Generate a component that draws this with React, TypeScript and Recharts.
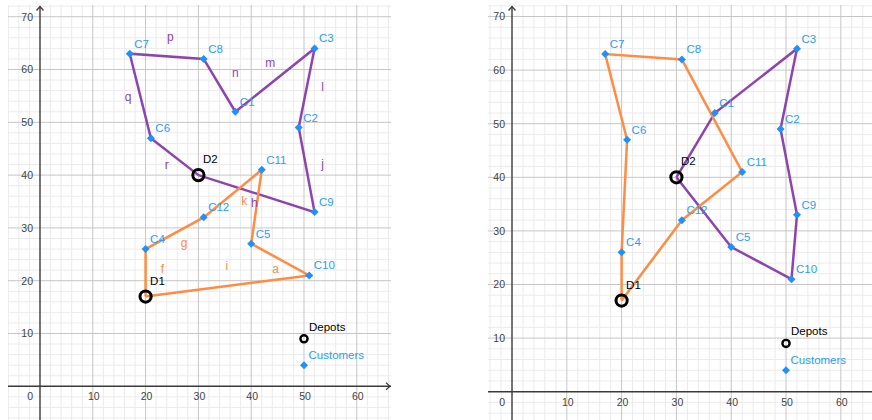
import React from 'react';
import { ScatterChart, Scatter, XAxis, YAxis, ReferenceLine } from 'recharts';

// customer + depot coordinates
const customers = [
  { name: 'C1', x: 37, y: 52 },
  { name: 'C2', x: 49, y: 49 },
  { name: 'C3', x: 52, y: 64 },
  { name: 'C4', x: 20, y: 26 },
  { name: 'C5', x: 40, y: 27 },
  { name: 'C6', x: 21, y: 47 },
  { name: 'C7', x: 17, y: 63 },
  { name: 'C8', x: 31, y: 62 },
  { name: 'C9', x: 52, y: 33 },
  { name: 'C10', x: 51, y: 21 },
  { name: 'C11', x: 42, y: 41 },
  { name: 'C12', x: 31, y: 32 },
];
const depots = [
  { name: 'D1', x: 20, y: 17 },
  { name: 'D2', x: 30, y: 40 },
];
const legendDepot = [{ name: 'Depots', x: 50, y: 9 }];
const legendCustomer = [{ name: 'Customers', x: 50, y: 4 }];

// routes (closed tours)
const leftOrangeRoute = ['D1', 'C4', 'C12', 'C11', 'C5', 'C10', 'D1'];
const leftPurpleRoute = ['D2', 'C6', 'C7', 'C8', 'C1', 'C3', 'C2', 'C9', 'D2'];
const rightOrangeRoute = ['D1', 'C4', 'C6', 'C7', 'C8', 'C11', 'C12', 'D1'];
const rightPurpleRoute = ['D2', 'C1', 'C3', 'C2', 'C9', 'C10', 'C5', 'D2'];

// edge names on the left plot
const purpleEdgeLabels = [
  { name: 'p', x: 24.7, y: 66.2 },
  { name: 'q', x: 16.7, y: 54.8 },
  { name: 'n', x: 37.0, y: 59.3 },
  { name: 'm', x: 43.6, y: 61.2 },
  { name: 'l', x: 53.5, y: 56.7 },
  { name: 'j', x: 53.5, y: 42.2 },
  { name: 'r', x: 24.0, y: 41.9 },
  { name: 'h', x: 40.6, y: 34.8 },
];
const orangeEdgeLabels = [
  { name: 'k', x: 38.7, y: 35.1 },
  { name: 'g', x: 27.3, y: 27.1 },
  { name: 'f', x: 23.2, y: 22.3 },
  { name: 'i', x: 35.4, y: 22.7 },
  { name: 'a', x: 44.6, y: 22.2 },
];

const xTicks = [10, 20, 30, 40, 50, 60];
const yTicks = [10, 20, 30, 40, 50, 60, 70];

const PURPLE = '#8e44ad';
const ORANGE = '#ff8c42';
const BLUE = '#1e90ff';
const LABEL_BLUE = '#2a9df4';
const AXIS = '#3a3a3a';
const FONT = '"Liberation Sans", Arial, sans-serif';

const allNodes = [...customers, ...depots];
const routeData = (route: string[]) => route.map((n) => allNodes.find((p) => p.name === n)!);

const gridValues: number[] = [];
for (let v = -8; v <= 74; v += 2) gridValues.push(v);

const Empty = () => <g />;

const CustomerShape = (props: any) => {
  const { cx, cy, payload } = props;
  return (
    <g>
      <path d={`M${cx},${cy - 4}L${cx + 4},${cy}L${cx},${cy + 4}L${cx - 4},${cy}Z`} fill={BLUE} />
      <text x={cx + 4.5} y={cy - 6} fontSize={11.5} fill={LABEL_BLUE} fontFamily={FONT}>
        {payload.name}
      </text>
    </g>
  );
};

const DepotShape = (props: any) => {
  const { cx, cy, payload } = props;
  return (
    <g>
      <circle cx={cx} cy={cy} r={5.6} fill="none" stroke="#000" strokeWidth={3} />
      <text x={cx + 4.5} y={cy - 12} fontSize={11.5} fill="#000" fontFamily={FONT}>
        {payload.name}
      </text>
    </g>
  );
};

const LegendDepotShape = (props: any) => {
  const { cx, cy, payload } = props;
  return (
    <g>
      <circle cx={cx} cy={cy} r={3.6} fill="none" stroke="#000" strokeWidth={2.4} />
      <text x={cx + 5} y={cy - 8} fontSize={11.5} fill="#000" fontFamily={FONT}>
        {payload.name}
      </text>
    </g>
  );
};

const edgeLabelShape = (color: string) => (props: any) => (
  <text x={props.cx} y={props.cy + 4} textAnchor="middle" fontSize={12} fill={color} fontFamily={FONT}>
    {props.payload.name}
  </text>
);

const XTickShape = (props: any) => (
  <text x={props.cx + 1} y={props.cy + 14} textAnchor="middle" fontSize={10.5} fill="#444" fontFamily={FONT}>
    {props.payload.x}
  </text>
);

const YTickShape = (props: any) => (
  <text x={props.cx - 7} y={props.cy + 3.8} textAnchor="end" fontSize={10.5} fill="#444" fontFamily={FONT}>
    {props.payload.y}
  </text>
);

const OriginShape = (props: any) => (
  <text x={props.cx - 7} y={props.cy + 14} textAnchor="end" fontSize={10.5} fill="#444" fontFamily={FONT}>
    0
  </text>
);

const yAxisShape = (props: any) => {
  const top = Math.min(props.y1, props.y2);
  const bottom = Math.max(props.y1, props.y2);
  const x = props.x1;
  const tip = top + 1.5;
  return (
    <g>
      <line x1={x} y1={tip} x2={x} y2={bottom} stroke={AXIS} strokeWidth={1.4} />
      <path d={`M${x - 3.5},${tip + 4}L${x},${tip}L${x + 3.5},${tip + 4}`} fill="none" stroke={AXIS} strokeWidth={1.2} />
    </g>
  );
};

const xAxisShape = (arrow: boolean) => (props: any) => {
  const left = Math.min(props.x1, props.x2);
  const right = Math.max(props.x1, props.x2);
  const y = props.y1;
  const tip = right - 1;
  return (
    <g>
      <line x1={left} y1={y} x2={right} y2={y} stroke={AXIS} strokeWidth={1.4} />
      {arrow && (
        <path d={`M${tip - 4},${y - 3.5}L${tip},${y}L${tip - 4},${y + 3.5}`} fill="none" stroke={AXIS} strokeWidth={1.2} />
      )}
    </g>
  );
};

type PanelProps = {
  width: number;
  height: number;
  xDomain: [number, number];
  yDomain: [number, number];
  orangeRoute: string[];
  purpleRoute: string[];
  showEdgeLabels: boolean;
  xArrow: boolean;
};

const Panel = ({ width, height, xDomain, yDomain, orangeRoute, purpleRoute, showEdgeLabels, xArrow }: PanelProps) => {
  return (
    <ScatterChart width={width} height={height} margin={{ top: 0, right: 0, bottom: 0, left: 0 }}>
      <XAxis type="number" dataKey="x" domain={xDomain} hide allowDataOverflow />
      <YAxis type="number" dataKey="y" domain={yDomain} hide allowDataOverflow />
      {gridValues.filter((v) => v % 10 !== 0).map((v) => (
        <ReferenceLine key={'mx' + v} x={v} stroke="#ebebeb" strokeWidth={1} />
      ))}
      {gridValues.filter((v) => v % 10 !== 0).map((v) => (
        <ReferenceLine key={'my' + v} y={v} stroke="#ebebeb" strokeWidth={1} />
      ))}
      {gridValues.filter((v) => v % 10 === 0 && v !== 0).map((v) => (
        <ReferenceLine key={'Mx' + v} x={v} stroke="#c6c6c6" strokeWidth={1} />
      ))}
      {gridValues.filter((v) => v % 10 === 0 && v !== 0).map((v) => (
        <ReferenceLine key={'My' + v} y={v} stroke="#c6c6c6" strokeWidth={1} />
      ))}
      <ReferenceLine y={0} shape={xAxisShape(xArrow)} />
      <ReferenceLine x={0} shape={yAxisShape} />
      <Scatter data={xTicks.map((v) => ({ x: v, y: 0 }))} shape={XTickShape} isAnimationActive={false} />
      <Scatter data={yTicks.map((v) => ({ x: 0, y: v }))} shape={YTickShape} isAnimationActive={false} />
      <Scatter data={[{ x: 0, y: 0 }]} shape={OriginShape} isAnimationActive={false} />
      <Scatter
        data={routeData(purpleRoute)}
        line={{ stroke: PURPLE, strokeWidth: 2.5 }}
        lineType="joint"
        shape={Empty}
        isAnimationActive={false}
      />
      <Scatter
        data={routeData(orangeRoute)}
        line={{ stroke: ORANGE, strokeWidth: 2.5 }}
        lineType="joint"
        shape={Empty}
        isAnimationActive={false}
      />
      {showEdgeLabels && (
        <Scatter data={purpleEdgeLabels} shape={edgeLabelShape(PURPLE)} isAnimationActive={false} />
      )}
      {showEdgeLabels && (
        <Scatter data={orangeEdgeLabels} shape={edgeLabelShape(ORANGE)} isAnimationActive={false} />
      )}
      <Scatter data={customers} shape={CustomerShape} isAnimationActive={false} />
      <Scatter data={depots} shape={DepotShape} isAnimationActive={false} />
      <Scatter data={legendDepot} shape={LegendDepotShape} isAnimationActive={false} />
      <Scatter data={legendCustomer} shape={CustomerShape} isAnimationActive={false} />
    </ScatterChart>
  );
};

const App = () => {
  return (
    <div style={{ position: 'absolute', left: 0, top: 0, width: 872, height: 420, overflow: 'hidden', background: '#fff' }}>
      <div style={{ position: 'absolute', left: 8, top: 5 }}>
        <Panel
          width={383}
          height={415}
          xDomain={[-6.06, 66.48]}
          yDomain={[-6.38, 72.22]}
          orangeRoute={leftOrangeRoute}
          purpleRoute={leftPurpleRoute}
          showEdgeLabels={true}
          xArrow={true}
        />
      </div>
      <div style={{ position: 'absolute', left: 488, top: 5 }}>
        <Panel
          width={384}
          height={415}
          xDomain={[-4.38, 65.69]}
          yDomain={[-5.28, 72.15]}
          orangeRoute={rightOrangeRoute}
          purpleRoute={rightPurpleRoute}
          showEdgeLabels={false}
          xArrow={false}
        />
      </div>
    </div>
  );
};

export default App;
